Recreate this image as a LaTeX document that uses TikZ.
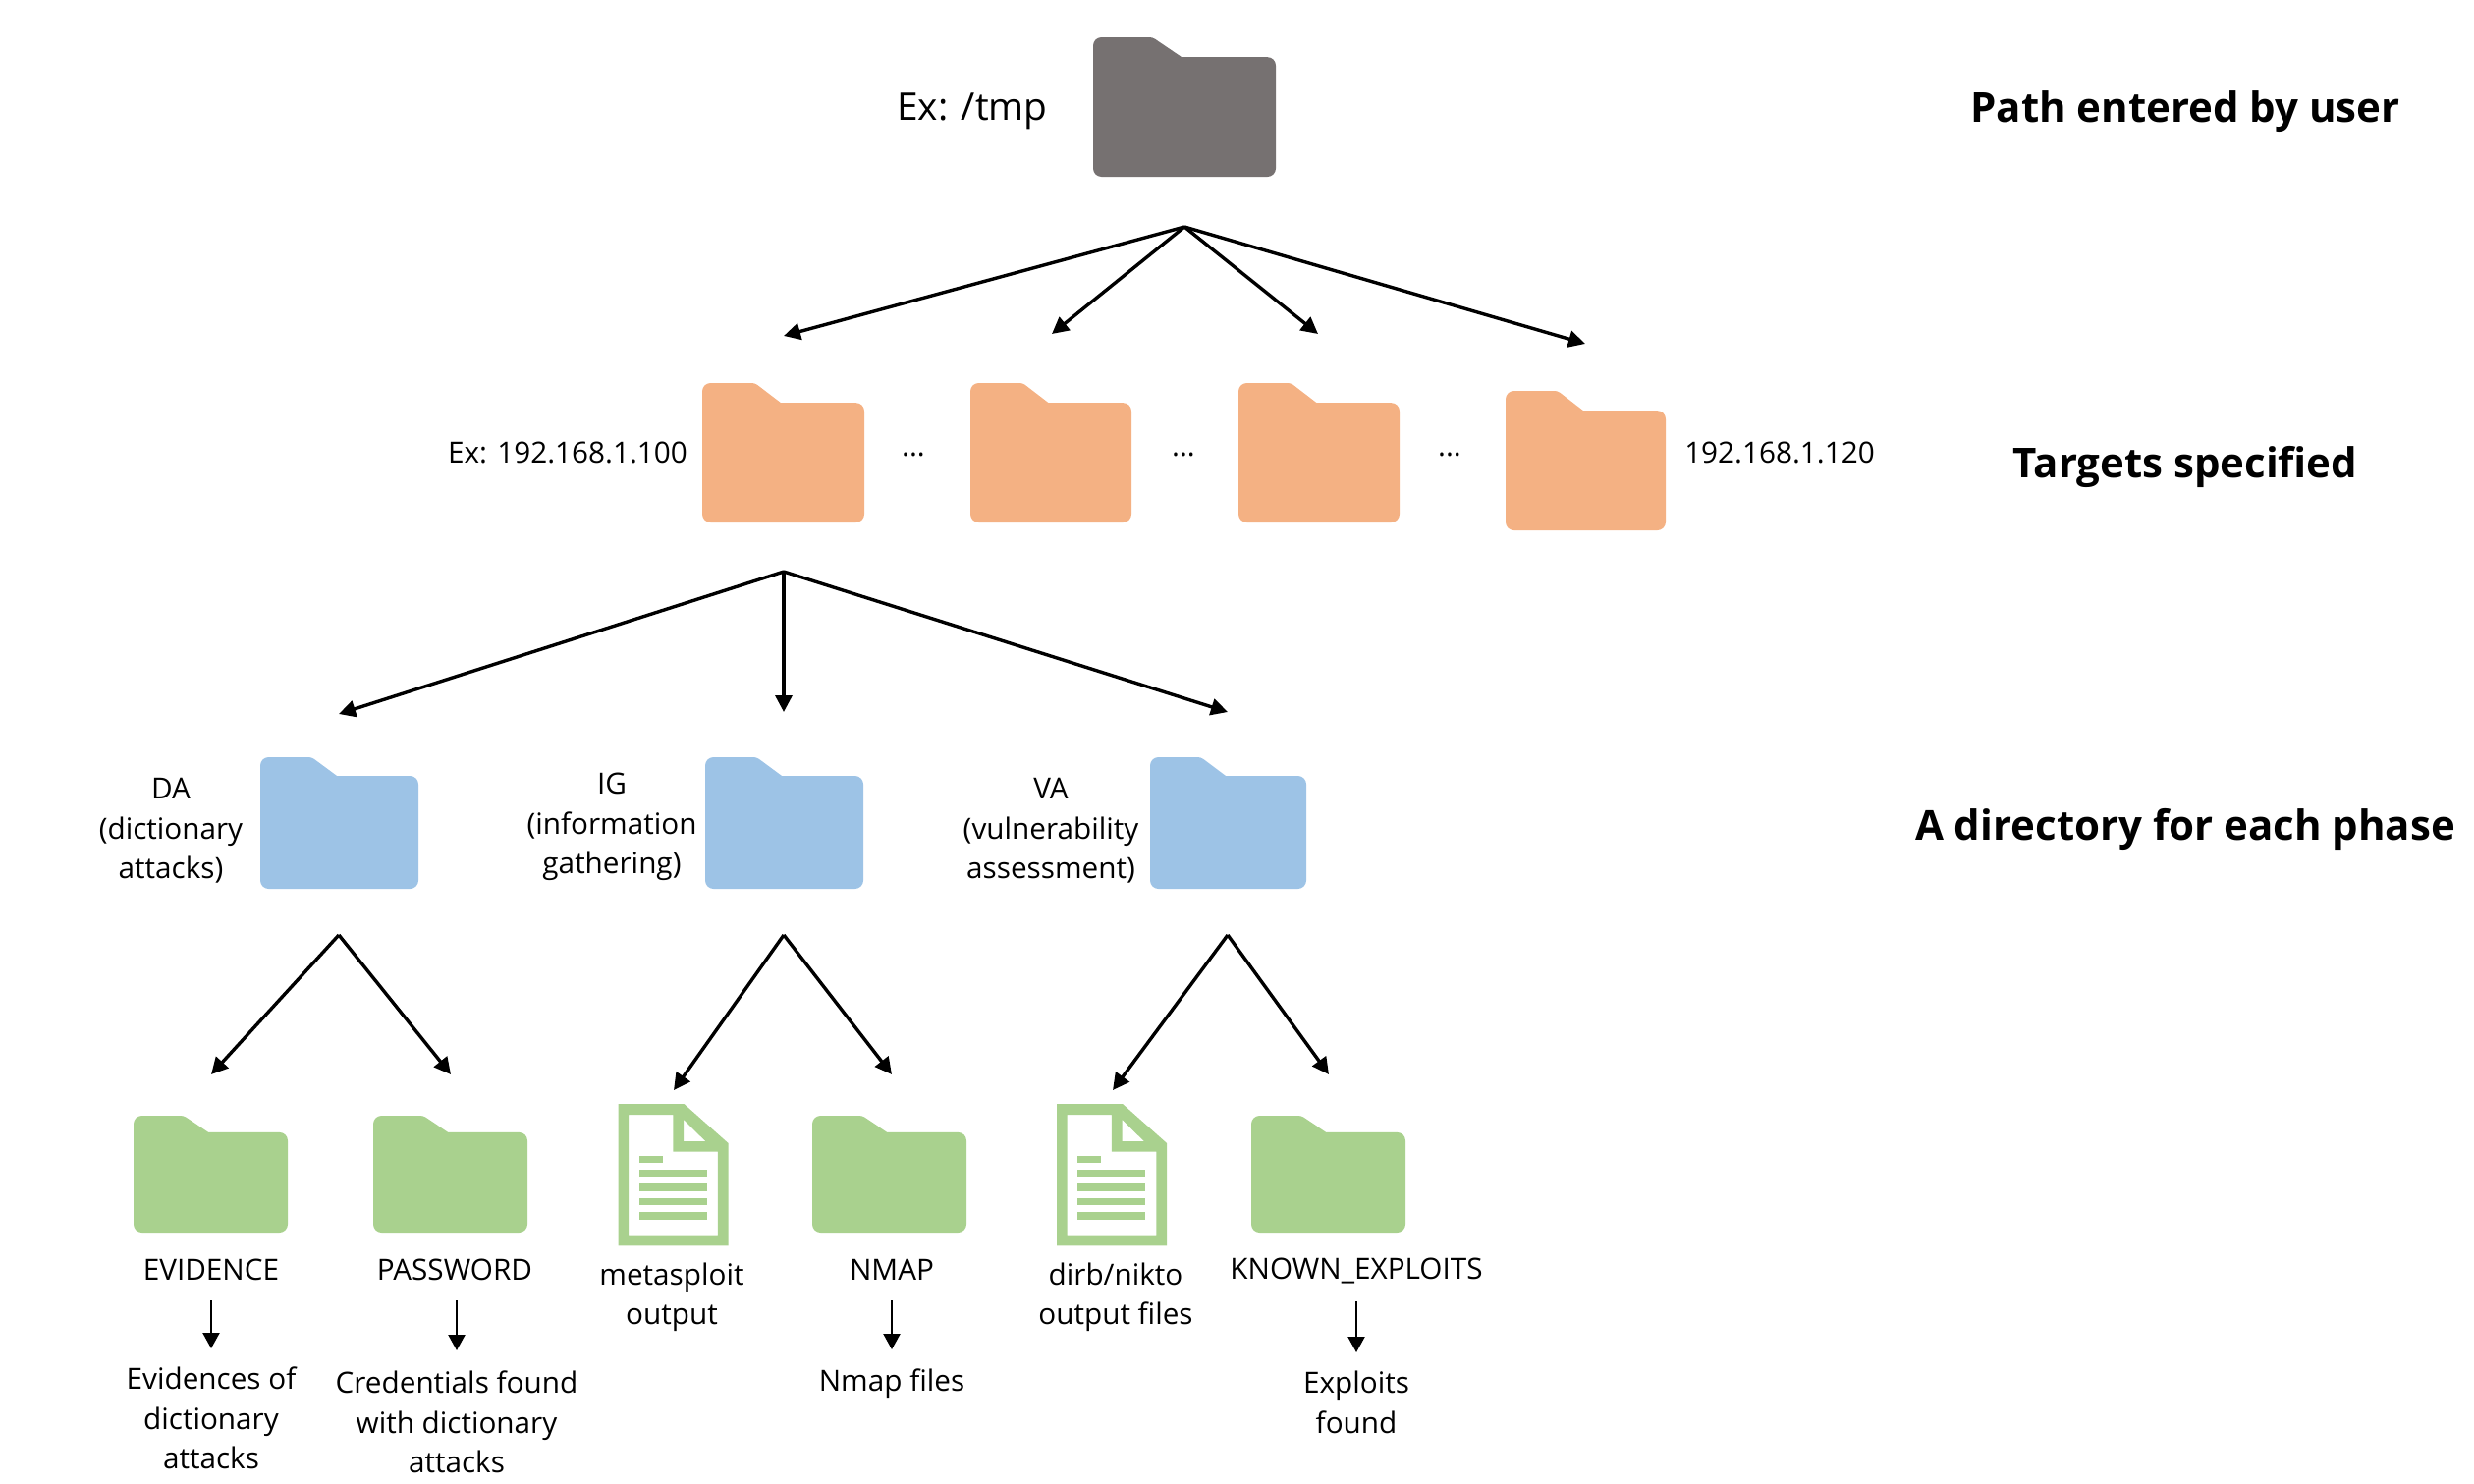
\documentclass[tikz,border=0pt]{standalone}
\usepackage{fontspec}
\setmainfont{Open Sans}
\usetikzlibrary{arrows.meta}
\definecolor{cgray}{HTML}{767171}
\definecolor{corange}{HTML}{F4B183}
\definecolor{cblue}{HTML}{9DC3E6}
\definecolor{cgreen}{HTML}{A9D18E}
\tikzset{
  big/.style={-{Triangle[length=17pt,width=17pt]},line width=3.4pt,line join=round},
  small/.style={-{Triangle[length=16pt,width=17pt]},line width=2.2pt},
  lab/.style={inner sep=0pt,align=center,font=\fontsize{29.7}{40.5}\selectfont},
  bigtext/.style={inner sep=0pt,font=\fontsize{38.8}{46}\selectfont},
  head/.style={inner sep=0pt,font=\fontsize{42}{50}\selectfont\bfseries},
  dots/.style={inner sep=0pt,font=\fontsize{29.7}{41}\selectfont}
}
% name, left, top, right, bottom, colour
\newcommand{\myfolder}[6]{%
  \pgfmathsetmacro{\fw}{#4-#2}\pgfmathsetmacro{\fh}{#5-#3}%
  \pgfmathsetmacro{\ta}{#2+0.325*\fw}\pgfmathsetmacro{\tb}{#2+0.485*\fw}%
  \pgfmathsetmacro{\tc}{#3+0.142*\fh}%
  \pgfmathsetmacro{\my}{(#3+#5)/2}%
  \fill[#6,rounded corners=8.5pt] (#2,\my) -- (#2,#3) [rounded corners=3pt] -- (\ta,#3) [sharp corners] -- (\tb,\tc) [rounded corners=8.5pt] -- (#4,\tc) -- (#4,#5) -- (#2,#5) -- cycle;%
  \coordinate (#1) at ({(#2+#4)/2},{(#3+#5)/2});%
}
% name, left, top  (icon is drawn in units of its own grid)
\newcommand{\mydoc}[3]{%
  \begin{scope}[shift={(#2,#3)},x=0.4464pt,y=-0.3333pt]
    \fill[cgreen,even odd rule] (0,0) -- (150,0) -- (251,120) -- (251,433) -- (0,433) -- cycle
      (24,33) -- (24,401) -- (227,401) -- (227,146) -- (125,146) -- (125,33) -- cycle
      (149,48) -- (149,114) -- (199,114) -- cycle;
    \fill[cgreen] (48,158) rectangle (101,179);
    \foreach \yy in {201,244,288,331}{\fill[cgreen] (48,\yy) rectangle (202,\yy+21.5);}
    \coordinate (#1) at (125,216);
  \end{scope}%
}
\begin{document}
\begin{tikzpicture}[x=1pt,y=-1pt]
\useasboundingbox (0,0) rectangle (2519,1510);
% folders
\myfolder{root}{1113}{38}{1299}{180}{cgray}
\myfolder{t1}{715}{390}{880}{532}{corange}
\myfolder{t2}{988}{390}{1152}{532}{corange}
\myfolder{t3}{1261}{390}{1425}{532}{corange}
\myfolder{t4}{1533}{398}{1696}{540}{corange}
\myfolder{da}{265}{771}{426}{905}{cblue}
\myfolder{ig}{718}{771}{879}{905}{cblue}
\myfolder{va}{1171}{771}{1330}{905}{cblue}
\myfolder{ev}{136}{1136}{293}{1255}{cgreen}
\myfolder{pw}{380}{1136}{537}{1255}{cgreen}
\myfolder{nm}{827}{1136}{984}{1255}{cgreen}
\myfolder{ke}{1274}{1136}{1431}{1255}{cgreen}
\mydoc{ms}{629.5}{1124}
\mydoc{dn}{1076}{1124}
% connector coordinates
\coordinate (a0) at (1206,231);
\coordinate (a1) at (798,342);
\coordinate (a2) at (1071,340);
\coordinate (a3) at (1342,340);
\coordinate (a4) at (1614,350);
\coordinate (b0) at (798,582);
\coordinate (b1) at (345,727);
\coordinate (b2) at (798,725);
\coordinate (b3) at (1250,725);
\coordinate (c0) at (345,952);
\coordinate (c1) at (215,1094);
\coordinate (c2) at (459,1094);
\coordinate (d0) at (798,952);
\coordinate (d1) at (686,1110);
\coordinate (d2) at (908,1094);
\coordinate (e0) at (1250,952);
\coordinate (e1) at (1133,1110);
\coordinate (e2) at (1353,1094);
\foreach \p in {a1,a2,a3,a4}{\draw[big] (a0) -- (\p);}
\foreach \p in {b1,b2,b3}{\draw[big] (b0) -- (\p);}
\foreach \p in {c1,c2}{\draw[big] (c0) -- (\p);}
\foreach \p in {d1,d2}{\draw[big] (d0) -- (\p);}
\foreach \p in {e1,e2}{\draw[big] (e0) -- (\p);}
% small arrows
\coordinate (f1) at (215,1324); \coordinate (f2) at (215,1373);
\coordinate (g1) at (465,1324); \coordinate (g2) at (465,1375);
\coordinate (h1) at (908,1324); \coordinate (h2) at (908,1374);
\coordinate (i1) at (1381,1325); \coordinate (i2) at (1381,1377);
\draw[small] (f1) -- (f2);
\draw[small] (g1) -- (g2);
\draw[small] (h1) -- (h2);
\draw[small] (i1) -- (i2);
% labels
\node[bigtext] (l0) at (990,113) {Ex: /tmp};
\node[head] (h0) at (2225,114) {Path entered by user};
\node[head] (h3) at (2225,475) {Targets specified};
\node[head] (h4) at (2225,844) {A directory for each phase};
\node[lab] (l1) at (578,461) {Ex: 192.168.1.100};
\node[dots] (p1) at (930,463) {...};
\node[dots] (p2) at (1205,463) {...};
\node[dots] (p3) at (1476,463) {...};
\node[lab] (l2) at (1812,461) {192.168.1.120};
\node[lab] (l3) at (174,846) {DA\\(dictionary\\attacks)};
\node[lab] (l4) at (623,842) {IG\\(information\\gathering)};
\node[lab] (l5) at (1070,846) {VA\\(vulnerability\\assessment)};
\node[lab] (l6) at (215,1293) {EVIDENCE};
\node[lab] (l7) at (463,1293) {PASSWORD};
\node[lab] (l8) at (684,1321) {metasploit\\output};
\node[lab] (l9) at (908,1293) {NMAP};
\node[lab] (l10) at (1136,1321) {dirb/nikto\\output files};
\node[lab] (l11) at (1381,1294) {KNOWN\_EXPLOITS};
\node[lab] (l12) at (215,1444) {Evidences of\\dictionary\\attacks};
\node[lab] (l13) at (465,1448) {Credentials found\\with dictionary\\attacks};
\node[lab] (l14) at (908,1409) {Nmap files};
\node[lab] (l15) at (1381,1428) {Exploits\\found};
\end{tikzpicture}
\end{document}
